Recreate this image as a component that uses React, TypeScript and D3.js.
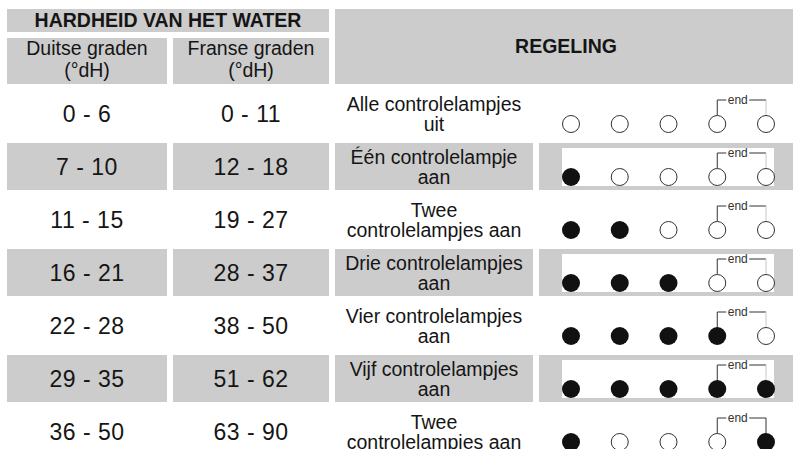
import { useEffect, useRef } from 'react'
import * as d3 from 'd3'

// table content
const duitse = ['0 - 6', '7 - 10', '11 - 15', '16 - 21', '22 - 28', '29 - 35', '36 - 50']
const franse = ['0 - 11', '12 - 18', '19 - 27', '28 - 37', '38 - 50', '51 - 62', '63 - 90']
const labels = [
  ['Alle controlelampjes', 'uit'],
  ['Één controlelampje', 'aan'],
  ['Twee', 'controlelampjes aan'],
  ['Drie controlelampjes', 'aan'],
  ['Vier controlelampjes', 'aan'],
  ['Vijf controlelampjes', 'aan'],
  ['Twee', 'controlelampjes aan'],
]
// 1 = lamp on, 0 = lamp off
const lamps = [
  [0, 0, 0, 0, 0],
  [1, 0, 0, 0, 0],
  [1, 1, 0, 0, 0],
  [1, 1, 1, 0, 0],
  [1, 1, 1, 1, 0],
  [1, 1, 1, 1, 1],
  [1, 0, 0, 0, 1],
]
const headTitle = 'HARDHEID VAN HET WATER'
const headCols = [['Duitse graden', '(°dH)'], ['Franse graden', '(°dH)']]
const headRight = 'REGELING'

export default function App() {
  const ref = useRef<SVGSVGElement>(null)
  useEffect(() => {
    const width = 793
    const height = 449
    const grey = '#cccccc'
    const ink = '#151515'
    const font = '"Liberation Sans", Arial, sans-serif'

    const svg = d3.select(ref.current)
    svg.selectAll('*').remove()
    svg.attr('viewBox', `0 0 ${width} ${height}`)
    svg.append('rect').attr('width', width).attr('height', height).attr('fill', '#fff')

    // columns: [x0, x1]
    const c1 = [7, 167], c2 = [173, 329], c3 = [335, 533], c4 = [539, 800]
    const rowTop = d3.scaleLinear().domain([0, 1]).range([90, 143])
    const rowH = 47
    const lampX = d3.scalePoint<number>().domain([0, 1, 2, 3, 4]).range([571, 766])
    const r = 8.5

    // header
    svg.append('rect').attr('x', c1[0]).attr('y', 9).attr('width', c2[1] - c1[0]).attr('height', 23).attr('fill', grey)
    svg.append('rect').attr('x', c1[0]).attr('y', 38).attr('width', c1[1] - c1[0]).attr('height', 46).attr('fill', grey)
    svg.append('rect').attr('x', c2[0]).attr('y', 38).attr('width', c2[1] - c2[0]).attr('height', 46).attr('fill', grey)
    svg.append('rect').attr('x', c3[0]).attr('y', 9).attr('width', c4[1] - c3[0]).attr('height', 75).attr('fill', grey)

    svg.append('text').attr('x', (c1[0] + c2[1]) / 2).attr('y', 27)
      .attr('text-anchor', 'middle').attr('font-family', font).attr('font-weight', 'bold')
      .attr('font-size', 19.5).attr('fill', ink).text(headTitle)
    ;[c1, c2].forEach((c, i) => {
      headCols[i].forEach((line, j) => {
        svg.append('text').attr('x', (c[0] + c[1]) / 2).attr('y', 55 + j * 22)
          .attr('text-anchor', 'middle').attr('font-family', font)
          .attr('font-size', 19.5).attr('fill', ink).text(line)
      })
    })
    svg.append('text').attr('x', 566).attr('y', 53)
      .attr('text-anchor', 'middle').attr('font-family', font).attr('font-weight', 'bold')
      .attr('font-size', 19.5).attr('fill', ink).text(headRight)

    // rows
    duitse.forEach((d, i) => {
      const top = rowTop(i)
      const mid = top + rowH / 2
      const g = svg.append('g')
      if (i % 2 === 1) {
        ;[c1, c2, c3, c4].forEach(c => {
          g.append('rect').attr('x', c[0]).attr('y', top).attr('width', c[1] - c[0]).attr('height', rowH).attr('fill', grey)
        })
        g.append('rect').attr('x', 562).attr('y', top + 5).attr('width', 212).attr('height', 38).attr('fill', '#fff')
      }
      ;[[c1, d], [c2, franse[i]]].forEach(([c, t]: any) => {
        g.append('text').attr('x', (c[0] + c[1]) / 2).attr('y', mid + 8)
          .attr('text-anchor', 'middle').attr('font-family', font)
          .attr('font-size', 23).attr('letter-spacing', 0.5).attr('fill', ink).text(t)
      })
      labels[i].forEach((line, j) => {
        g.append('text').attr('x', (c3[0] + c3[1]) / 2).attr('y', mid - 3 + j * 20)
          .attr('text-anchor', 'middle').attr('font-family', font)
          .attr('font-size', 19.5).attr('fill', ink).text(line)
      })

      // end bracket
      const cy = top + 34
      const by = top + 10
      const x4 = lampX(3)!, x5 = lampX(4)!
      const last = i === lamps.length - 1
      g.append('path').attr('d', `M${x4},${cy - r} V${by} H${x4 + 9}`)
        .attr('fill', 'none').attr('stroke', '#333').attr('stroke-width', 1)
      g.append('path').attr('d', `M${x4 + 32},${by} H${x5}`)
        .attr('fill', 'none').attr('stroke', '#333').attr('stroke-width', 1)
      g.append('path').attr('d', `M${x5},${by} V${cy - r}`)
        .attr('fill', 'none').attr('stroke', last ? '#333' : '#c8c8c8').attr('stroke-width', 1)
      g.append('text').attr('x', x4 + 20.5).attr('y', by + 4)
        .attr('text-anchor', 'middle').attr('font-family', font)
        .attr('font-size', 12).attr('fill', '#333').text('end')

      lamps[i].forEach((on, k) => {
        g.append('circle').attr('cx', lampX(k)!).attr('cy', cy).attr('r', on ? r + 0.5 : r)
          .attr('fill', on ? '#111' : '#fff')
          .attr('stroke', on ? 'none' : '#333').attr('stroke-width', 1)
      })
    })
  }, [])

  return (
    <svg ref={ref} width={793} height={449}
      style={{ position: 'fixed', left: 0, top: 0, display: 'block' }} />
  )
}
